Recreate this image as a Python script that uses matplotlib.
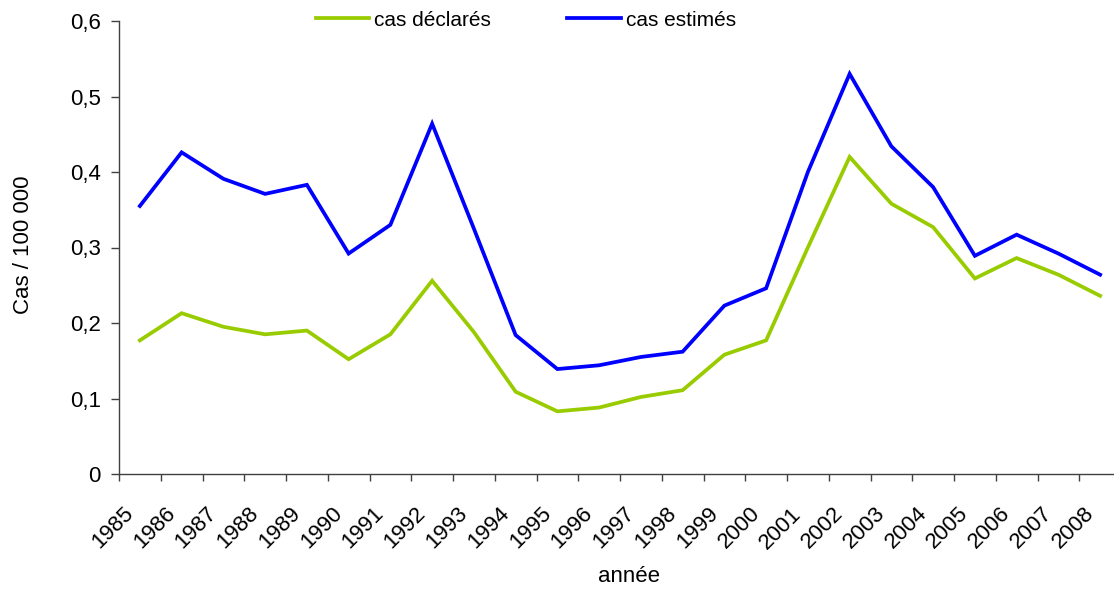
import matplotlib
matplotlib.use("Agg")
import matplotlib.pyplot as plt
from matplotlib.ticker import FixedLocator, FuncFormatter
from matplotlib.transforms import ScaledTranslation

plt.rcParams['font.family'] = ['Liberation Sans', 'DejaVu Sans']

years = [str(y) for y in range(1985, 2009)]
cas_declares = [0.177, 0.213, 0.195, 0.185, 0.190, 0.152, 0.185, 0.256, 0.188, 0.109,
                0.083, 0.088, 0.102, 0.111, 0.158, 0.177, 0.300, 0.420, 0.358, 0.327,
                0.259, 0.286, 0.264, 0.236]
cas_estimes = [0.355, 0.426, 0.391, 0.371, 0.383, 0.292, 0.330, 0.464, 0.325, 0.184,
               0.139, 0.144, 0.155, 0.162, 0.223, 0.246, 0.400, 0.530, 0.434, 0.380,
               0.289, 0.317, 0.292, 0.264]
yticks = [0, 0.1, 0.2, 0.3, 0.4, 0.5, 0.6]

W, H = 1114, 589
fig = plt.figure(figsize=(W / 100, H / 100), dpi=100)
ax = fig.add_axes([119 / W, 1 - 474 / H, (W - 119) / W, (474 - 21) / H])

x = list(range(len(years)))
l1, = ax.plot(x, cas_declares, color='#99CC00', lw=2.7, label='cas déclarés', solid_joinstyle='miter')
l2, = ax.plot(x, cas_estimes, color='#0000FF', lw=2.7, label='cas estimés', solid_joinstyle='miter')

cat_w = 41.75
ax.set_xlim(-0.5, -0.5 + (W - 119) / cat_w)
ax.set_ylim(0, 0.6)

for s in ['top', 'right']:
    ax.spines[s].set_visible(False)
for s in ['left', 'bottom']:
    ax.spines[s].set_color('#404040')
    ax.spines[s].set_linewidth(1.0)

ax.set_yticks(yticks)
ax.yaxis.set_major_formatter(FuncFormatter(lambda v, p: ('%.1f' % v).replace('.', ',') if v != 0 else '0'))
ax.tick_params(axis='y', direction='out', length=6, width=1, color='#404040', pad=7, labelsize=16)

ax.xaxis.set_major_locator(FixedLocator([i - 0.5 for i in range(len(years))]))
ax.xaxis.set_minor_locator(FixedLocator(x))
ax.set_xticklabels([], minor=False)
ax.set_xticklabels(years, minor=True)
ax.tick_params(axis='x', which='major', direction='out', length=5, width=1, color='#404040')
ax.tick_params(axis='x', which='minor', length=0, pad=21, labelsize=16)
for lab in ax.get_xticklabels(minor=True):
    lab.set_rotation(45)
    lab.set_rotation_mode('anchor')
    lab.set_ha('right')
    lab.set_va('top')
    lab.set_transform(lab.get_transform() + ScaledTranslation(-17 / 100, 0, fig.dpi_scale_trans))

fig.text(24 / W, 1 - 245 / H, 'Cas / 100 000', rotation=90, ha='center', va='center', fontsize=16)
fig.text(629 / W, 1 - 577 / H, 'année', ha='center', va='center', fontsize=16)

fig.legend(handles=[l1, l2], loc='center', bbox_to_anchor=(526 / W, 1 - 20 / H), ncol=2,
           frameon=False, fontsize=15, handlelength=2.55, handletextpad=0.25,
           columnspacing=3.65, borderpad=0)

fig.savefig('out.png', dpi=100)
